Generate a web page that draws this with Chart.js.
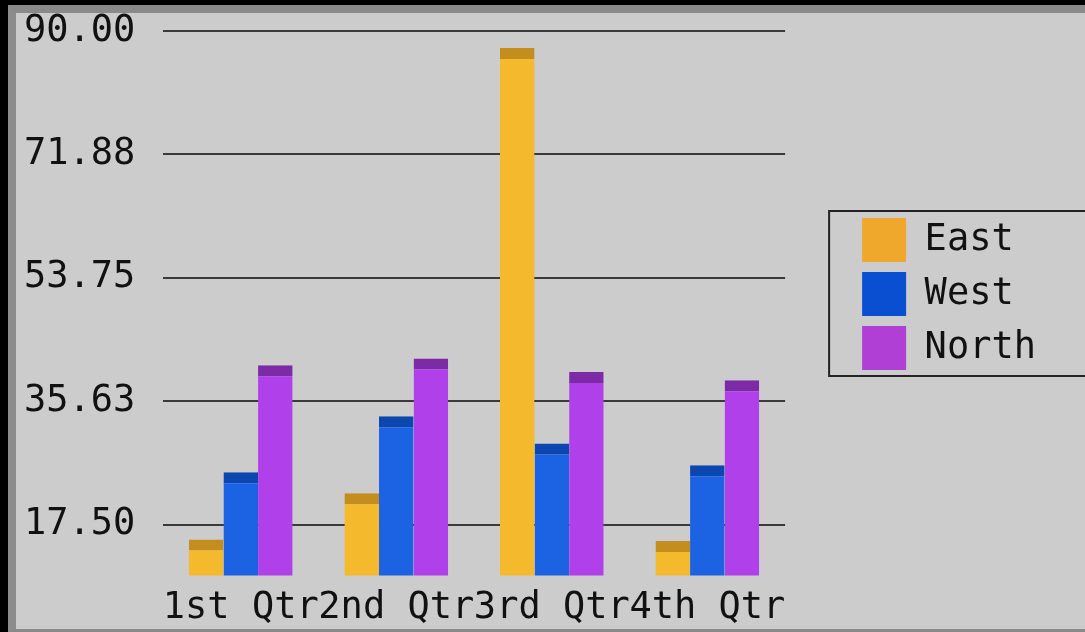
<!DOCTYPE html>
<html>
<head>
<meta charset="utf-8">
<script src="https://cdn.jsdelivr.net/npm/chart.js@4"></script>
<style>
  html, body { margin: 0; padding: 0; background: #000; overflow: hidden; }
  #frame {
    position: absolute; left: 8px; top: 5px; right: 0; bottom: 0;
    box-sizing: border-box; background: #cccccc;
    border-left: 8px solid #8c8c8c; border-top: 8px solid #8a8a8a; border-bottom: 3px solid #8a8a8a;
  }
  #c { position: absolute; left: 0; top: 0; }
</style>
</head>
<body>
<div id="frame"></div>
<canvas id="c" width="1085" height="632"></canvas>
<script>
const categories = ['1st Qtr', '2nd Qtr', '3rd Qtr', '4th Qtr'];
const east = [15.3, 22.1, 87.5, 15.1];
const west = [25.2, 33.4, 29.4, 26.2];
const north = [40.9, 41.9, 39.9, 38.7];
const yTickValues = [17.5, 35.625, 53.75, 71.875, 90];
const yTickLabels = ['17.50', '35.63', '53.75', '71.88', '90.00'];

const seriesNames = ['East', 'West', 'North'];
const faceColors = ['#f4b92c', '#1c63e4', '#b041ea'];
const capColors = ['#c48e1e', '#0c47b0', '#7c2aa6'];
const legendColors = ['#f0a82c', '#0a4ed2', '#b03fd6'];

const FONT = '"DejaVu Sans Mono", monospace';
Chart.defaults.font.family = FONT;
Chart.defaults.color = '#111';

// box around the legend, the library has no legend border
const legendFrame = {
  id: 'legendFrame',
  afterDraw(chart) {
    const hb = chart.legend.legendHitBoxes;
    if (!hb || !hb.length) return;
    const last = hb[hb.length - 1];
    const ctx = chart.ctx;
    ctx.save();
    ctx.strokeStyle = '#222';
    ctx.lineWidth = 2;
    ctx.strokeRect(hb[0].left - 33, hb[0].top - 7, chart.width + 40 - hb[0].left, last.top + last.height + 13 - hb[0].top);
    ctx.restore();
  }
};

function draw() {
  const datasets = [east, west, north].map((vals, i) => ({
    label: seriesNames[i],
    data: vals,
    backgroundColor: faceColors[i],
    borderColor: capColors[i],
    borderWidth: { top: 11, left: 0, right: 0, bottom: 0 },
    borderSkipped: 'bottom',
  }));

  new Chart(document.getElementById('c'), {
    type: 'bar',
    data: { labels: categories, datasets },
    options: {
      responsive: false,
      animation: false,
      datasets: { bar: { barPercentage: 1, categoryPercentage: 0.667 } },
      layout: { padding: { top: 31, left: 24, right: 39, bottom: -10 } },
      plugins: {
        tooltip: { enabled: false },
        legend: {
          position: 'right',
          fullSize: false,
          maxWidth: 300,
          align: 'start',
          // empty title only pushes the items down to where the reference has them
          title: { display: true, text: '', font: { size: 10 }, padding: { top: 0, bottom: 165 } },
          labels: {
            boxWidth: 44,
            boxHeight: 44,
            padding: 10,
            color: '#111',
            font: { size: 37, family: FONT },
            generateLabels: chart => Chart.defaults.plugins.legend.labels.generateLabels(chart).map((item, i) => ({
              ...item, fillStyle: legendColors[i], strokeStyle: legendColors[i], lineWidth: 0,
            })),
          },
        },
      },
      scales: {
        x: {
          grid: { display: false, drawTicks: false },
          border: { display: false },
          ticks: { autoSkip: false, maxRotation: 0, padding: 11, color: '#111', font: { size: 37 } },
        },
        y: {
          min: 10,
          max: 90,
          afterBuildTicks: s => { s.ticks = yTickValues.map(v => ({ value: v })); },
          afterFit: s => { s.width = 139; },
          grid: { color: '#3a3a3a', lineWidth: 2, drawTicks: false },
          border: { display: false },
          ticks: { crossAlign: 'far', color: '#111', font: { size: 37 }, callback: (v, i) => yTickLabels[i] },
        },
        yPad: {
          position: 'right',
          grid: { display: false },
          border: { display: false },
          ticks: { display: false },
          afterFit: s => { s.width = 67; },
        },
      },
    },
    plugins: [legendFrame],
  });
}

document.fonts.load('37px "DejaVu Sans Mono"').then(draw, draw);
</script>
</body>
</html>
